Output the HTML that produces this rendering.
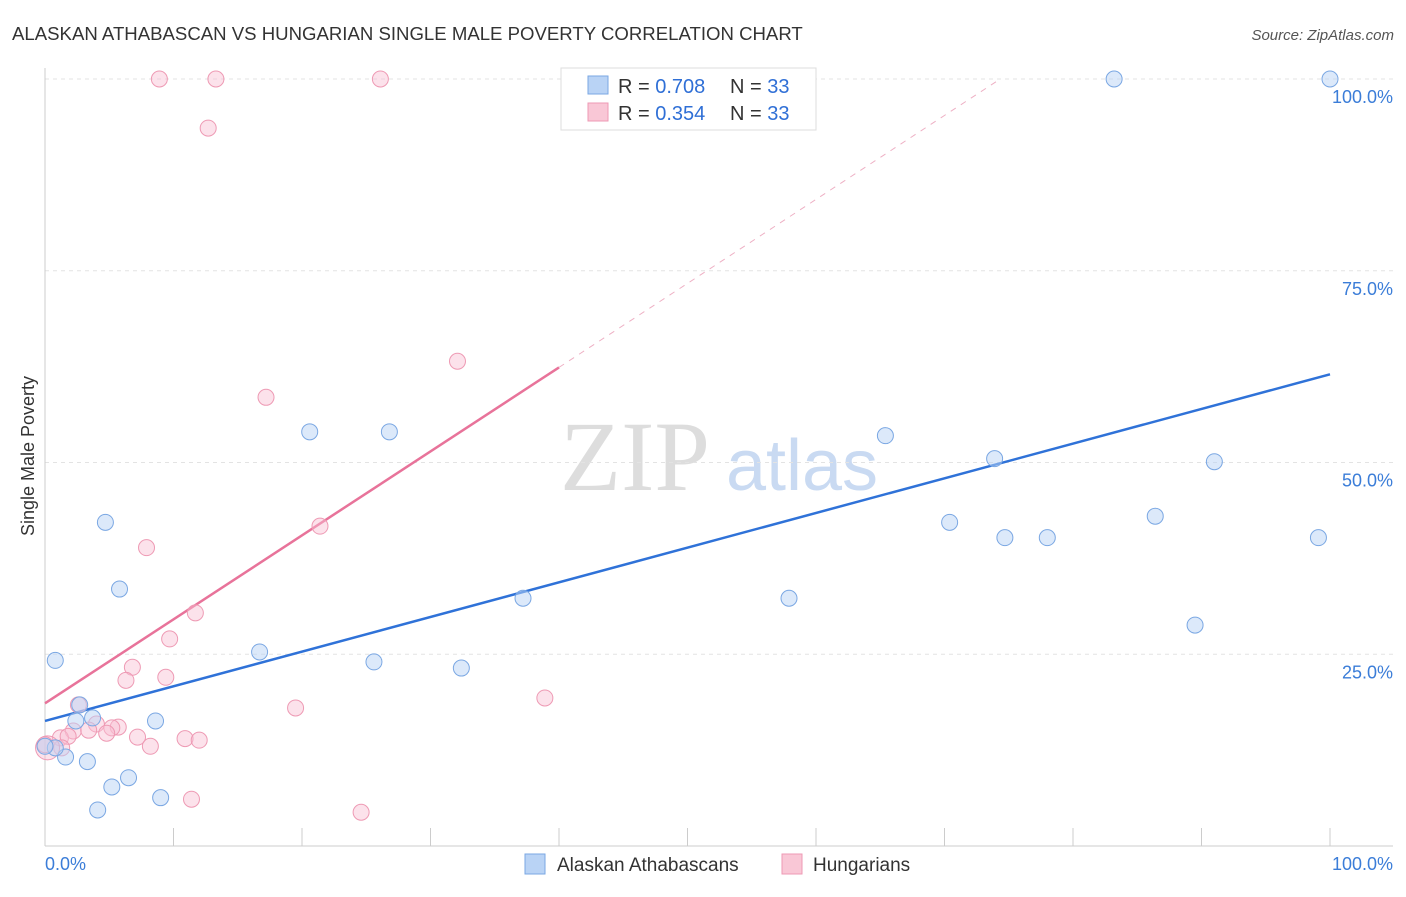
<!DOCTYPE html>
<html><head><meta charset="utf-8"><style>
body{margin:0;background:#fff;font-family:"Liberation Sans",sans-serif;}
</style></head><body>
<svg id="chart" width="1406" height="892" font-family="Liberation Sans, sans-serif">
<text x="12" y="40" font-size="18.6" fill="#333">ALASKAN ATHABASCAN VS HUNGARIAN SINGLE MALE POVERTY CORRELATION CHART</text>
<text x="1394" y="40" font-size="15" fill="#555" font-style="italic" text-anchor="end">Source: ZipAtlas.com</text>
<g>
<text x="635" y="490" font-size="100" fill="#ddd" style="font-family:'Liberation Serif',serif" text-anchor="middle">ZIP</text>
<text x="802" y="490" font-size="72" fill="#c9daf2" text-anchor="middle">atlas</text>
</g>
<text transform="translate(34,456) rotate(-90)" font-size="18" fill="#333" text-anchor="middle">Single Male Poverty</text>
<g id="grid"></g><g id="axes"></g><g id="lines"></g><g id="points"></g>
<g>
<rect x="561" y="68" width="255" height="62" fill="#fff" stroke="#ddd"/>
<rect x="588" y="76" width="20" height="18" fill="#b9d3f5" stroke="#7aa7e3"/>
<text x="618" y="93" font-size="20" fill="#333">R = <tspan fill="#2f6fd6">0.708</tspan></text>
<text x="730" y="93" font-size="20" fill="#333">N = <tspan fill="#2f6fd6">33</tspan></text>
<rect x="588" y="103" width="20" height="18" fill="#f9c7d6" stroke="#ee9ab4"/>
<text x="618" y="120" font-size="20" fill="#333">R = <tspan fill="#2f6fd6">0.354</tspan></text>
<text x="730" y="120" font-size="20" fill="#333">N = <tspan fill="#2f6fd6">33</tspan></text>
</g>
<g>
<rect x="525" y="854" width="20" height="20" fill="#b9d3f5" stroke="#7aa7e3"/>
<text x="557" y="871" font-size="19" fill="#333">Alaskan Athabascans</text>
<rect x="782" y="854" width="20" height="20" fill="#f9c7d6" stroke="#ee9ab4"/>
<text x="813" y="871" font-size="19" fill="#333">Hungarians</text>
</g>
<text x="45" y="870" font-size="18" fill="#3b7dd8">0.0%</text>
<text x="1393" y="870" font-size="18" fill="#3b7dd8" text-anchor="end">100.0%</text>
</svg>
<script>
const yTicks=[25,50,75,100];
const yTickLabels=["25.0%","50.0%","75.0%","100.0%"];
const blueX=[100,83.2,0.8,4.7,5.8,2.7,2.4,3.7,1.6,3.3,0.8,0,5.2,6.5,4.1,9.0,8.6,16.7,20.6,26.8,25.6,32.4,37.2,57.9,65.4,70.4,73.9,74.7,78,86.4,89.5,91,99.1];
const blueY=[100,100,24.2,42.2,33.5,18.4,16.3,16.7,11.6,11.0,12.8,13,7.7,8.9,4.7,6.3,16.3,25.3,54,54,24,23.2,32.3,32.3,53.5,42.2,50.5,40.2,40.2,43,28.8,50.1,40.2];
const pinkX=[8.9,13.3,26.1,12.7,32.1,17.2,21.4,7.9,11.7,9.7,6.8,9.4,6.3,2.6,38.9,19.5,4.0,5.7,5.2,2.2,3.4,4.8,7.2,1.2,1.8,10.9,12.0,8.2,1.3,0.2,11.4,24.6,0];
const pinkY=[100,100,100,93.6,63.2,58.5,41.7,38.9,30.4,27,23.3,22,21.6,18.4,19.3,18,15.9,15.5,15.4,15,15.1,14.7,14.2,14.1,14.3,14,13.8,13,12.8,12.8,6.1,4.4,13.2];
const blueFit=[16.3,61.5];
const pinkFit=[18.6,1.095];
const NS="http://www.w3.org/2000/svg";
const xs=v=>45+v*12.85, ys=v=>846-v*7.67;
function mk(t,a,p){const e=document.createElementNS(NS,t);for(const k in a)e.setAttribute(k,a[k]);p.appendChild(e);return e;}
const grid=document.getElementById('grid'),axes=document.getElementById('axes');
yTicks.forEach((t,i)=>{
 const l=mk('line',{x1:45,x2:1393,y1:ys(t),y2:ys(t),stroke:'#e3e3e3','stroke-dasharray':'4,4'},grid);
 
 
 const tx=mk('text',{x:1393,y:ys(t)+24,'font-size':18,fill:'#3b7dd8','text-anchor':'end'},axes);
 tx.textContent=yTickLabels[i];
 
 
});
const ax=mk('line',{x1:45,x2:1393,y1:846,y2:846,stroke:'#ccc'},axes);


const ay=mk('line',{x1:45,x2:45,y1:68,y2:846,stroke:'#ccc'},axes);


for(let i=1;i<=10;i++){const t=mk('line',{x1:xs(i*10),x2:xs(i*10),y1:828,y2:846,stroke:'#ccc'},axes);
 
 }
const lines=document.getElementById('lines');
const bl=mk('line',{x1:xs(0),y1:ys(blueFit[0]),x2:xs(100),y2:ys(blueFit[1]),stroke:'#2f72d8','stroke-width':2.5},lines);


const pEnd=(100-pinkFit[0])/pinkFit[1];
const pl=mk('line',{x1:xs(0),y1:ys(pinkFit[0]),x2:xs(40),y2:ys(pinkFit[0]+40*pinkFit[1]),stroke:'#e8739a','stroke-width':2.5},lines);


const pd=mk('line',{x1:xs(40),y1:ys(pinkFit[0]+40*pinkFit[1]),x2:xs(pEnd),y2:ys(100),stroke:'#eeb0c4','stroke-width':1,'stroke-dasharray':'6,6'},lines);


const pts=document.getElementById('points');
pinkX.forEach((x,i)=>{const c=mk('circle',{cx:xs(x),cy:ys(pinkY[i]),r:(i==29?12:8),fill:'rgba(249,190,210,0.45)',stroke:'#ee9ab4','stroke-width':1},pts);
 
 });
blueX.forEach((x,i)=>{const c=mk('circle',{cx:xs(x),cy:ys(blueY[i]),r:8,fill:'rgba(185,211,245,0.5)',stroke:'#7aa7e3','stroke-width':1},pts);
 
 });
</script>
</body></html>
